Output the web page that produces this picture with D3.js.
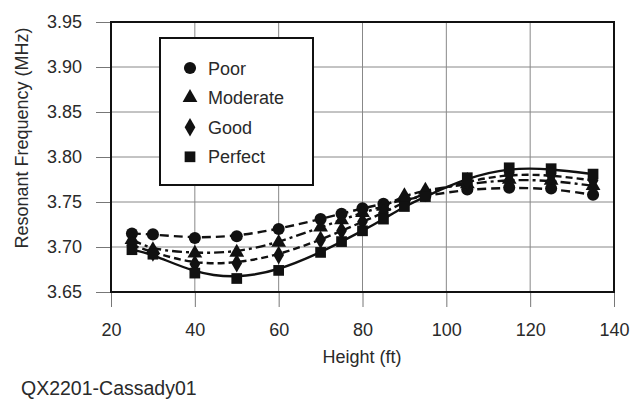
<!DOCTYPE html>
<html><head><meta charset="utf-8">
<script src="https://cdn.jsdelivr.net/npm/d3@7"></script>
<style>body{margin:0;background:#fff}text{font-family:"Liberation Sans",Arial,sans-serif;fill:#2a2a2a}</style>
</head><body><svg id="c" width="631" height="399"></svg>
<script>
const heights = [25, 30, 40, 50, 60, 70, 75, 80, 85, 90, 95, 105, 115, 125, 135];
const poor     = [3.715, 3.714, 3.710, 3.712, 3.720, 3.731, 3.737, 3.743, 3.748, 3.752, 3.757, 3.764, 3.766, 3.765, 3.758];
const moderate = [3.708, 3.697, 3.693, 3.694, 3.705, 3.722, 3.730, 3.738, 3.745, 3.757, 3.763, 3.770, 3.775, 3.774, 3.768];
const good     = [3.702, 3.694, 3.681, 3.682, 3.691, 3.708, 3.718, 3.728, 3.738, 3.750, 3.760, 3.773, 3.781, 3.780, 3.774];
const perfect  = [3.697, 3.692, 3.671, 3.665, 3.674, 3.694, 3.706, 3.718, 3.731, 3.745, 3.756, 3.777, 3.788, 3.787, 3.781];
const seriesNames = ["Poor", "Moderate", "Good", "Perfect"];
const xTicks = [20, 40, 60, 80, 100, 120, 140];
const yTicks = [3.65, 3.70, 3.75, 3.80, 3.85, 3.90, 3.95];

const series = [
  {name: seriesNames[0], values: poor, sym: d3.symbolCircle, dash: "9,5"},
  {name: seriesNames[1], values: moderate, sym: d3.symbolTriangle, dash: "10,4,3,4"},
  {name: seriesNames[2], values: good, sym: d3.symbolDiamond, dash: "7,4"},
  {name: seriesNames[3], values: perfect, sym: d3.symbolSquare, dash: null}
];
const symSize = s => s === d3.symbolSquare ? 115 : (s === d3.symbolTriangle ? 95 : (s === d3.symbolDiamond ? 100 : 115));

const svg = d3.select("#c");
const L = 111, R = 614, T = 22, B = 292;
const x = d3.scaleLinear().domain([20, 140]).range([L, R]);
const y = d3.scaleLinear().domain([3.65, 3.95]).range([B, T]);

// grid
svg.append("g").selectAll("line").data(xTicks.slice(1, -1)).join("line")
  .attr("x1", d => x(d)).attr("x2", d => x(d)).attr("y1", T).attr("y2", B)
  .attr("stroke", "#888").attr("stroke-width", 1);
svg.append("g").selectAll("line").data(yTicks.slice(1, -1)).join("line")
  .attr("x1", L).attr("x2", R).attr("y1", d => y(d)).attr("y2", d => y(d))
  .attr("stroke", "#888").attr("stroke-width", 1);

// axes
const xa = svg.append("g").attr("transform", `translate(0,${B})`)
  .call(d3.axisBottom(x).tickValues(xTicks).tickSize(15).tickPadding(16).tickFormat(d3.format("d")));
const ya = svg.append("g").attr("transform", `translate(${L},0)`)
  .call(d3.axisLeft(y).tickValues(yTicks).tickSize(15).tickPadding(14).tickFormat(d3.format(".2f")));
[xa, ya].forEach(a => {
  a.select(".domain").remove();
  a.selectAll("line").attr("stroke", "#777");
  a.selectAll("text").style("font-size", "18px").attr("fill", "#2a2a2a");
});

// frame
svg.append("rect").attr("x", L).attr("y", T).attr("width", R - L).attr("height", B - T)
  .attr("fill", "none").attr("stroke", "#111").attr("stroke-width", 2);

// lines
const line = d3.line().curve(d3.curveBasis).x(d => x(d[0])).y(d => y(d[1]));
series.forEach(s => {
  const pts = heights.map((h, i) => [h, s.values[i]]);
  svg.append("path").attr("d", line(pts)).attr("fill", "none")
    .attr("stroke", "#111").attr("stroke-width", 2.4)
    .attr("stroke-dasharray", s.dash);
  svg.append("g").selectAll("path").data(pts).join("path")
    .attr("transform", d => `translate(${x(d[0])},${y(d[1])})`)
    .attr("d", d3.symbol().type(s.sym).size(symSize(s.sym)))
    .attr("fill", "#111");
});

// legend
svg.append("rect").attr("x", 160).attr("y", 38).attr("width", 153).attr("height", 147)
  .attr("fill", "#fff").attr("stroke", "#111").attr("stroke-width", 2);
series.forEach((s, i) => {
  const ly = 68 + i * 29.6;
  svg.append("path").attr("transform", `translate(190,${ly})`)
    .attr("d", d3.symbol().type(s.sym).size(symSize(s.sym)))
    .attr("fill", "#111");
  svg.append("text").attr("x", 208).attr("y", ly + 6.5).text(s.name).style("font-size", "18px");
});

// titles
svg.append("text").attr("transform", "translate(28,138) rotate(-90)").attr("text-anchor", "middle")
  .style("font-size", "18px").text("Resonant Frequency (MHz)");
svg.append("text").attr("x", 362).attr("y", 363).attr("text-anchor", "middle")
  .style("font-size", "18px").text("Height (ft)");
svg.append("text").attr("x", 21).attr("y", 395).style("font-size", "19.5px").text("QX2201-Cassady01");
</script></body></html>
